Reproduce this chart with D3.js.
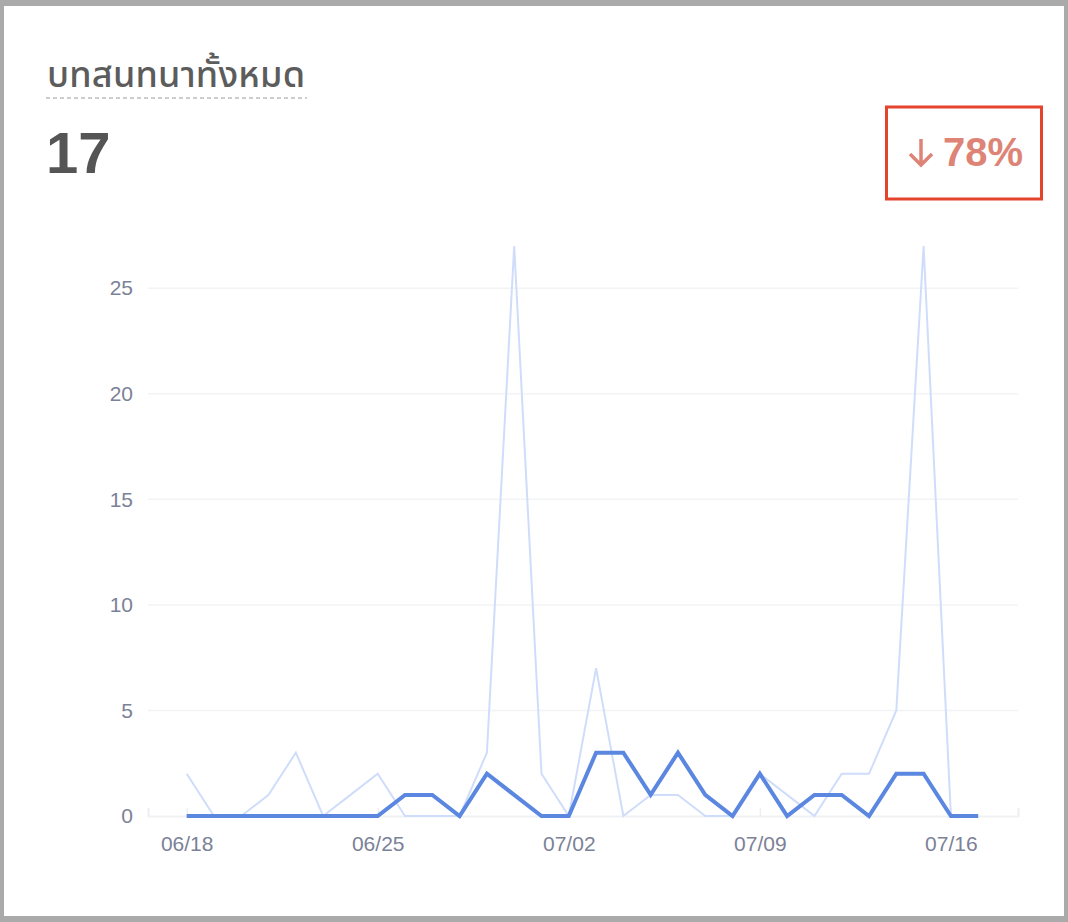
<!DOCTYPE html>
<html>
<head>
<meta charset="utf-8">
<script src="https://cdn.jsdelivr.net/npm/d3@7"></script>
<style>
  html, body { margin: 0; padding: 0; background: #aaaaaa; }
  #card { position: absolute; left: 4px; top: 6px; width: 1060px; height: 910px; background: #fff; }
</style>
</head>
<body>
<div id="card"></div>
<script>
// data, one value per day 06/18 .. 07/17
var startDay = "2023-06-18";
var previous = [2,0,0,1,3,0,1,2,0,0,0,3,27,2,0,7,0,1,1,0,0,2,1,0,2,2,5,27,0,0];
var current  = [0,0,0,0,0,0,0,0,1,1,0,2,1,0,0,3,3,1,3,1,0,2,0,1,1,0,2,2,0,0];
var tickDays = ["2023-06-18","2023-06-25","2023-07-02","2023-07-09","2023-07-16"];
var yTicks = [0,5,10,15,20,25];
var title = "บทสนทนาทั้งหมด";
var total = "17";
var change = "78%";

var parse = d3.timeParse("%Y-%m-%d");
var days = current.map(function(d, i) { return d3.timeDay.offset(parse(startDay), i); });

var W = 1060, H = 910; // card size, card is offset 4,6 in the page
var svg = d3.select("#card").append("svg")
  .attr("width", W)
  .attr("height", H);

var g = svg.append("g").attr("transform", "translate(-4,-6)"); // work in page coords

var x = d3.scaleTime()
  .domain([d3.timeHour.offset(days[0], -34), d3.timeHour.offset(days[days.length-1], 35)])
  .range([148, 1018]);
var y = d3.scaleLinear().domain([0, 27]).range([816, 246]);

var labelFont = "'Liberation Sans', Arial, sans-serif";

// grid lines
g.append("g").selectAll("line")
  .data(yTicks.filter(function(d){ return d > 0; }))
  .enter().append("line")
    .attr("x1", 148).attr("x2", 1018)
    .attr("y1", function(d){ return y(d); })
    .attr("y2", function(d){ return y(d); })
    .attr("stroke", "#f2f3f5")
    .attr("stroke-width", 1.5);

// y axis (labels only)
var yAxis = g.append("g")
  .attr("transform", "translate(133,0)")
  .call(d3.axisLeft(y).tickValues(yTicks).tickSize(0).tickPadding(0));
yAxis.select(".domain").remove();
yAxis.selectAll("text")
  .attr("font-family", labelFont)
  .attr("font-size", 21)
  .attr("fill", "#7b8197");

// x axis, ticks point up
var xAxis = g.append("g")
  .attr("transform", "translate(0," + y(0) + ")")
  .call(d3.axisBottom(x)
    .tickValues(tickDays.map(parse).concat([x.domain()[0], x.domain()[1]]))
    .tickSize(-8).tickPadding(20)
    .tickFormat(function(d){
      return tickDays.indexOf(d3.timeFormat("%Y-%m-%d")(d)) >= 0 && d.getHours() === 0 ? d3.timeFormat("%m/%d")(d) : "";
    }));
xAxis.select(".domain").attr("stroke", "#f0f1f3").attr("stroke-width", 2);
xAxis.selectAll(".tick line").attr("stroke", "#eeeff1").attr("stroke-width", 1.5);
xAxis.selectAll("text")
  .attr("font-family", labelFont)
  .attr("font-size", 21)
  .attr("fill", "#7b8197");

var line = d3.line()
  .x(function(d, i){ return x(days[i]); })
  .y(function(d){ return y(d); });

g.append("path")
  .datum(previous)
  .attr("d", line)
  .attr("fill", "none")
  .attr("stroke", "#d0ddfa")
  .attr("stroke-width", 2);

g.append("path")
  .datum(current)
  .attr("d", line)
  .attr("fill", "none")
  .attr("stroke", "#5b87e0")
  .attr("stroke-width", 4)
  .attr("stroke-linejoin", "miter");

// header
g.append("text")
  .attr("x", 47).attr("y", 87)
  .attr("font-family", "'Noto Sans Thai', 'Noto Sans', sans-serif")
  .attr("font-size", 36)
  .attr("font-weight", 500)
  .attr("fill", "#5c5c5c")
  .attr("textLength", 258)
  .attr("lengthAdjust", "spacing")
  .text(title);
g.append("line")
  .attr("x1", 46).attr("x2", 307)
  .attr("y1", 98).attr("y2", 98)
  .attr("stroke", "#9a9a9a")
  .attr("stroke-width", 1)
  .attr("stroke-dasharray", "4,3");

g.append("text")
  .attr("x", 46).attr("y", 173)
  .attr("font-family", labelFont)
  .attr("font-weight", "bold")
  .attr("font-size", 58)
  .attr("fill", "#555555")
  .text(total);

// change badge
g.append("rect")
  .attr("x", 886.5).attr("y", 107)
  .attr("width", 155).attr("height", 92)
  .attr("fill", "none")
  .attr("stroke", "#e5432c")
  .attr("stroke-width", 3);
g.append("text")
  .attr("x", 1023).attr("y", 166)
  .attr("text-anchor", "end")
  .attr("font-family", labelFont)
  .attr("font-weight", "bold")
  .attr("font-size", 40)
  .attr("fill", "#de8476")
  .text(change);
// down arrow
var ax = 921, ay0 = 139, ay1 = 165;
g.append("path")
  .attr("d", "M" + ax + "," + ay0 + "V" + ay1 + "M" + (ax-11) + "," + (ay1-11) + "L" + ax + "," + ay1 + "L" + (ax+11) + "," + (ay1-11))
  .attr("fill", "none")
  .attr("stroke", "#de8476")
  .attr("stroke-width", 3.5);
</script>
</body>
</html>
